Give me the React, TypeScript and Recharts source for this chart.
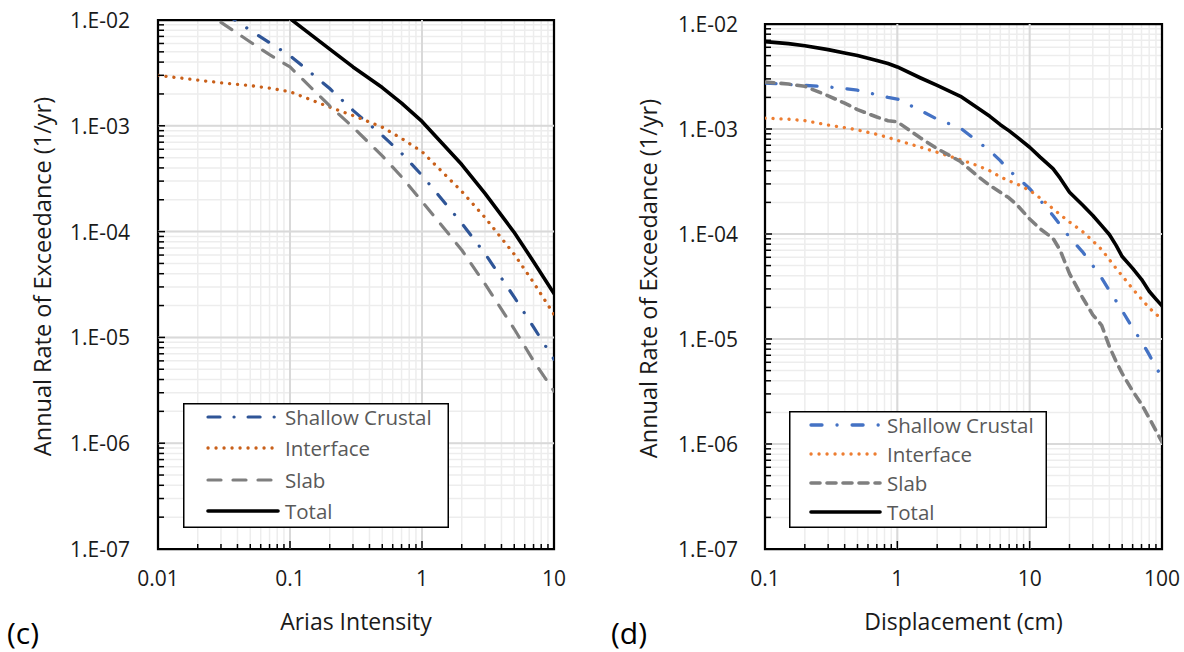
import React from 'react';
import {
  LineChart,
  Line,
  XAxis,
  YAxis,
  CartesianGrid,
  ReferenceLine,
  ReferenceArea,
  Legend,
  Label
} from 'recharts';

// (c) Arias intensity hazard curves
const ariasX = [0.01, 0.02, 0.03, 0.05, 0.07, 0.1, 0.2, 0.3, 0.5, 0.7, 1, 2, 3, 5, 7, 10];
const ariasShallow = [0.03, 0.017, 0.0122, 0.008, 0.0061, 0.0046, 0.00225, 0.0014, 0.00081, 0.00055, 0.00034, 0.00012, 6.2e-5, 2.4e-5, 1.25e-5, 6.2e-6];
const ariasInterface = [0.003, 0.0027, 0.00255, 0.0024, 0.00227, 0.0021, 0.0015, 0.00125, 0.00097, 0.00076, 0.00057, 0.00024, 0.000136, 6.1e-5, 3.3e-5, 1.65e-5];
const ariasSlab = [0.023, 0.013, 0.0095, 0.0062, 0.0047, 0.0036, 0.00154, 0.00097, 0.00052, 0.00033, 0.000193, 6.7e-5, 3.2e-5, 1.2e-5, 6e-6, 3.1e-6];
const ariasTotal = [0.056, 0.034, 0.024, 0.0165, 0.013, 0.0103, 0.0053, 0.0036, 0.0023, 0.00164, 0.0011, 0.00043, 0.00023, 9.8e-5, 5.2e-5, 2.6e-5];

// (d) displacement hazard curves
const dispX = [0.1, 0.15, 0.2, 0.3, 0.4, 0.5, 0.7, 0.85, 1, 1.5, 2, 3, 4, 5, 6, 7, 8, 10, 12, 15, 17, 20, 25, 30, 35, 40, 45, 50, 60, 70, 80, 90, 100];
const dispShallow = [2.74e-3, 2.66e-3, 2.6e-3, 2.52e-3, 2.42e-3, 2.34e-3, 2.12e-3, 2.0e-3, 1.93e-3, 1.5e-3, 1.24e-3, 1.02e-3, 7.7e-4, 6.2e-4, 5.0e-4, 4.0e-4, 3.5e-4, 2.7e-4, 2.1e-4, 1.5e-4, 1.22e-4, 9.3e-5, 6.8e-5, 5.0e-5, 3.8e-5, 2.9e-5, 2.3e-5, 1.86e-5, 1.27e-5, 9.5e-6, 7.1e-6, 5.4e-6, 4.3e-6];
const dispInterface = [1.27e-3, 1.24e-3, 1.2e-3, 1.09e-3, 1.03e-3, 9.8e-4, 8.9e-4, 8.3e-4, 7.8e-4, 6.7e-4, 6.0e-4, 5.1e-4, 4.5e-4, 4.0e-4, 3.5e-4, 3.2e-4, 3.0e-4, 2.6e-4, 2.2e-4, 1.74e-4, 1.53e-4, 1.3e-4, 1.06e-4, 8.6e-5, 7.1e-5, 5.7e-5, 4.7e-5, 4.0e-5, 3.0e-5, 2.4e-5, 1.98e-5, 1.73e-5, 1.53e-5];
const dispSlab = [2.8e-3, 2.68e-3, 2.55e-3, 2.07e-3, 1.76e-3, 1.53e-3, 1.3e-3, 1.2e-3, 1.17e-3, 8.2e-4, 6.5e-4, 4.9e-4, 3.6e-4, 2.9e-4, 2.5e-4, 2.2e-4, 1.9e-4, 1.39e-4, 1.12e-4, 9.1e-5, 7.0e-5, 4.2e-5, 2.5e-5, 1.7e-5, 1.35e-5, 8.5e-6, 6.1e-6, 4.7e-6, 3.2e-6, 2.4e-6, 1.77e-6, 1.34e-6, 1.05e-6];
const dispTotal = [6.8e-3, 6.5e-3, 6.2e-3, 5.7e-3, 5.3e-3, 5.0e-3, 4.5e-3, 4.2e-3, 3.9e-3, 3.06e-3, 2.6e-3, 2.05e-3, 1.6e-3, 1.32e-3, 1.1e-3, 9.6e-4, 8.4e-4, 6.7e-4, 5.4e-4, 4.2e-4, 3.4e-4, 2.5e-4, 1.9e-4, 1.5e-4, 1.2e-4, 9.9e-5, 7.8e-5, 6.1e-5, 4.7e-5, 3.7e-5, 2.85e-5, 2.4e-5, 2.07e-5];

const seriesNames = ['Shallow Crustal', 'Interface', 'Slab', 'Total'];

// axis ticks
const yDecades = [1e-7, 1e-6, 1e-5, 1e-4, 1e-3, 1e-2];
const yTickLabels = ['1.E-07', '1.E-06', '1.E-05', '1.E-04', '1.E-03', '1.E-02'];
const ariasDecades = [0.01, 0.1, 1, 10];
const ariasTickLabels = ['0.01', '0.1', '1', '10'];
const dispDecades = [0.1, 1, 10, 100];
const dispTickLabels = ['0.1', '1', '10', '100'];

const FONT = "'Open Sans', sans-serif";

const minorTicks = (decades: number[]) => {
  const out: number[] = [];
  decades.slice(0, -1).forEach(d => {
    for (let m = 1; m <= 9; m++) out.push(parseFloat((m * d).toPrecision(3)));
  });
  out.push(decades[decades.length - 1]);
  return out;
};

const near = (a: number, b: number) => Math.abs(Math.log10(a) - Math.log10(b)) < 1e-6;

const toPoints = (xs: number[], ys: number[]) => xs.map((x, i) => ({ x, y: ys[i] }));

const makeYTick = (labelOffset: number) => (props: any) => {
  const { x, y, payload } = props;
  const i = yDecades.findIndex(d => near(d, payload.value));
  return (
    <g>
      <line x1={x} x2={x + (i >= 0 ? 7 : 6)} y1={y} y2={y} stroke="#000" strokeWidth={1.5} />
      {i >= 0 && (
        <text x={x - labelOffset} y={y} textAnchor="end" dominantBaseline="central" fontSize={21} fill="#1a1a1a" fontFamily={FONT}>
          {yTickLabels[i]}
        </text>
      )}
    </g>
  );
};

const makeXTick = (decades: number[], labels: string[]) => (props: any) => {
  const { x, y, payload } = props;
  const i = decades.findIndex(d => near(d, payload.value));
  return (
    <g>
      <line x1={x} x2={x} y1={y} y2={y - (i >= 0 ? 8 : 5)} stroke="#000" strokeWidth={1.5} />
      {i >= 0 && (
        <text x={x} y={y + 29} textAnchor="middle" dominantBaseline="central" fontSize={21} fill="#1a1a1a" fontFamily={FONT}>
          {labels[i]}
        </text>
      )}
    </g>
  );
};

interface SeriesStyle {
  color: string;
  width: number;
  dash?: string;
}

interface PanelProps {
  xs: number[];
  ys: number[][];
  styles: SeriesStyle[];
  xDecades: number[];
  xLabels: string[];
  xTitle: string;
  width: number;
  top: number;
  right: number;
  yAxisWidth: number;
  yTitleX: number;
  yLabelOffset: number;
  legend: { left: number; top: number; w: number; h: number; rows: number[]; x1: number; x2: number; tx: number };
}

const Panel: React.FC<PanelProps> = ({
  xs, ys, styles, xDecades, xLabels, xTitle, width, top, right, yAxisWidth, yTitleX, yLabelOffset, legend
}) => {
  const xDomain = [xDecades[0], xDecades[xDecades.length - 1]];
  const yDomain = [yDecades[0], yDecades[yDecades.length - 1]];
  return (
    <LineChart width={width} height={652} margin={{ top, right, bottom: 33, left: 0 }}>
      <CartesianGrid stroke="#ededed" strokeWidth={1.5} />
      {xDecades.slice(1, -1).map(v => (
        <ReferenceLine key={`vx${v}`} x={v} stroke="#d9d9d9" strokeWidth={2} />
      ))}
      {yDecades.slice(1, -1).map(v => (
        <ReferenceLine key={`hy${v}`} y={v} stroke="#d9d9d9" strokeWidth={2} />
      ))}
      <XAxis
        type="number"
        dataKey="x"
        scale="log"
        domain={xDomain}
        allowDataOverflow
        ticks={minorTicks(xDecades)}
        interval={0}
        tickSize={0}
        tickMargin={0}
        tickLine={false}
        axisLine={false}
        height={70}
        tick={makeXTick(xDecades, xLabels)}
      >
        <Label
          content={(p: any) => {
            const vb = p.viewBox;
            return (
              <text x={vb.x + vb.width / 2} y={vb.y + 72} textAnchor="middle" dominantBaseline="central" fontSize={23} fill="#1a1a1a" fontFamily={FONT}>
                {xTitle}
              </text>
            );
          }}
        />
      </XAxis>
      <YAxis
        type="number"
        scale="log"
        domain={yDomain}
        allowDataOverflow
        ticks={minorTicks(yDecades)}
        interval={0}
        tickSize={0}
        tickMargin={0}
        tickLine={false}
        axisLine={false}
        width={yAxisWidth}
        tick={makeYTick(yLabelOffset)}
      >
        <Label
          content={(p: any) => {
            const vb = p.viewBox;
            const cy = vb.y + vb.height / 2 - 8;
            return (
              <text x={yTitleX} y={cy} transform={`rotate(-90 ${yTitleX} ${cy})`} textAnchor="middle" dominantBaseline="central" fontSize={23.5} fill="#1a1a1a" fontFamily={FONT}>
                Annual Rate of Exceedance (1/yr)
              </text>
            );
          }}
        />
      </YAxis>
      {ys.map((series, i) => (
        <Line
          key={seriesNames[i]}
          name={seriesNames[i]}
          data={toPoints(xs, series)}
          dataKey="y"
          type="linear"
          stroke={styles[i].color}
          strokeWidth={styles[i].width}
          strokeDasharray={styles[i].dash}
          strokeLinecap="round"
          strokeLinejoin="round"
          dot={false}
          activeDot={false}
          isAnimationActive={false}
        />
      ))}
      <ReferenceArea x1={xDomain[0]} x2={xDomain[1]} y1={yDomain[0]} y2={yDomain[1]} fill="none" fillOpacity={0} stroke="#000" strokeWidth={2.25} />
      <Legend
        layout="vertical"
        align="center"
        verticalAlign="middle"
        wrapperStyle={{ left: legend.left, top: legend.top, width: legend.w, height: legend.h }}
        content={() => (
          <svg width={legend.w} height={legend.h} style={{ display: 'block' }}>
            <rect x={0.75} y={0.75} width={legend.w - 1.5} height={legend.h - 1.5} fill="#fff" stroke="#000" strokeWidth={1.5} />
            {seriesNames.map((name, i) => (
              <g key={name}>
                <line
                  x1={legend.x1}
                  x2={legend.x2}
                  y1={legend.rows[i]}
                  y2={legend.rows[i]}
                  stroke={styles[i].color}
                  strokeWidth={styles[i].width}
                  strokeDasharray={styles[i].dash}
                  strokeLinecap="round"
                />
                <text x={legend.tx} y={legend.rows[i]} dominantBaseline="central" fontSize={20.5} fill="#595959" fontFamily={FONT}>
                  {name}
                </text>
              </g>
            ))}
          </svg>
        )}
      />
    </LineChart>
  );
};

const ariasStyles: SeriesStyle[] = [
  { color: '#2F5597', width: 3.2, dash: '12 14 0.1 14' },
  { color: '#C9601A', width: 3.3, dash: '0.1 7.9' },
  { color: '#7F7F7F', width: 3.2, dash: '13 12' },
  { color: '#000000', width: 3.6 }
];

const dispStyles: SeriesStyle[] = [
  { color: '#4472C4', width: 3.3, dash: '11 15 0.1 15' },
  { color: '#ED7D31', width: 3.3, dash: '0.1 7.9' },
  { color: '#7F7F7F', width: 3.6, dash: '9 7' },
  { color: '#000000', width: 3.6 }
];

export default function App() {
  return (
    <div style={{ position: 'absolute', left: 0, top: 0, width: 1184, height: 652, background: '#fff', fontFamily: FONT, overflow: 'hidden' }}>
      <div style={{ position: 'absolute', left: 0, top: 0 }}>
        <Panel
          xs={ariasX}
          ys={[ariasShallow, ariasInterface, ariasSlab, ariasTotal]}
          styles={ariasStyles}
          xDecades={ariasDecades}
          xLabels={ariasTickLabels}
          xTitle="Arias Intensity"
          width={600}
          top={20}
          right={46}
          yAxisWidth={158}
          yTitleX={42}
          yLabelOffset={28}
          legend={{ left: 183, top: 403, w: 266, h: 125, rows: [14, 45, 77, 108], x1: 25, x2: 95, tx: 102 }}
        />
      </div>
      <div style={{ position: 'absolute', left: 600, top: 0 }}>
        <Panel
          xs={dispX}
          ys={[dispShallow, dispInterface, dispSlab, dispTotal]}
          styles={dispStyles}
          xDecades={dispDecades}
          xLabels={dispTickLabels}
          xTitle="Displacement (cm)"
          width={584}
          top={24}
          right={22}
          yAxisWidth={165}
          yTitleX={48}
          yLabelOffset={27}
          legend={{ left: 189, top: 411, w: 258, h: 117, rows: [14, 43, 72, 101], x1: 22, x2: 91, tx: 98 }}
        />
      </div>
      <div style={{ position: 'absolute', left: 7, top: 616, fontSize: 30, lineHeight: '34px', color: '#000' }}>(c)</div>
      <div style={{ position: 'absolute', left: 611, top: 616, fontSize: 30, lineHeight: '34px', color: '#000' }}>(d)</div>
    </div>
  );
}
